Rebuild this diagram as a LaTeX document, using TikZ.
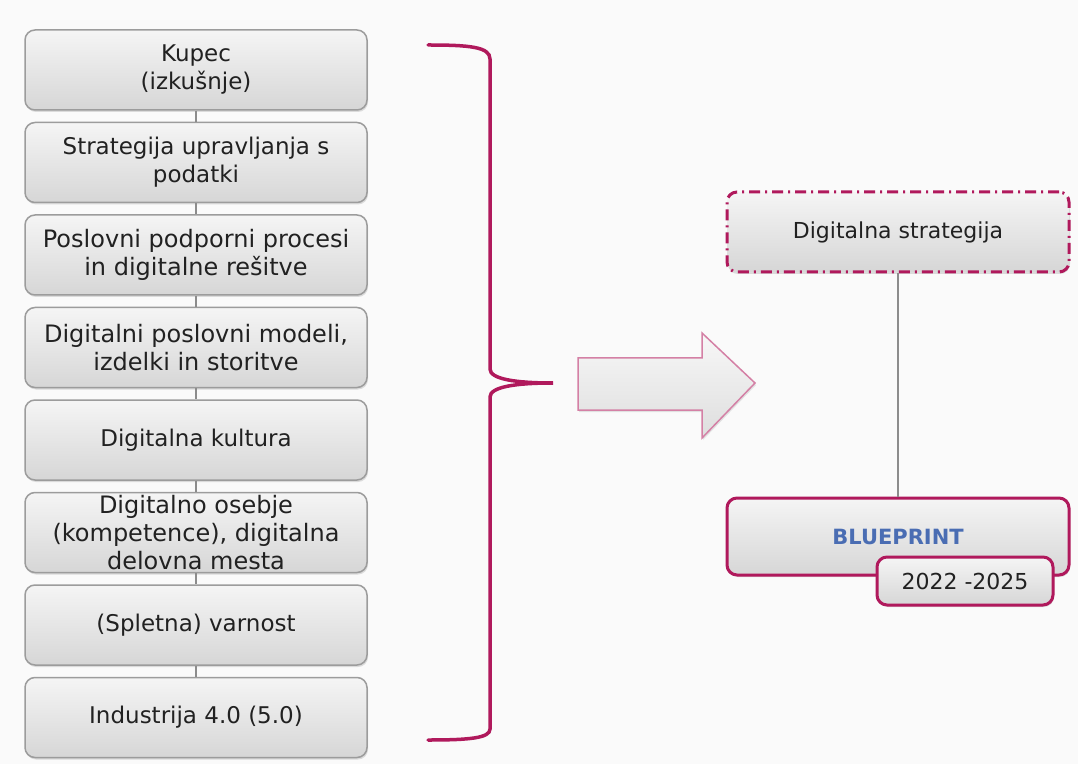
\documentclass[tikz,border=0pt]{standalone}
\usepackage{fontspec}
\setmainfont{DejaVu Sans}
\usepackage{tikz}
\usetikzlibrary{shadows}

\definecolor{brace}{HTML}{B0195C}
\definecolor{boxline}{HTML}{9C9C9C}
\definecolor{bluetext}{HTML}{4A6DB3}

\begin{document}
\begin{tikzpicture}[x=1pt, y=1pt, node distance=92.5pt,
  box/.style={draw=boxline, line width=1.5pt, rounded corners=10pt,
    top color=white!96!black, bottom color=white!84!black,
    drop shadow={opacity=0.25, shadow xshift=1pt, shadow yshift=-2pt},
    minimum width=342pt, minimum height=80pt, inner ysep=0pt,
    align=center, font=\fontsize{23}{28}\selectfont, text=black!87},
  bigtext/.style={font=\fontsize{24}{28}\selectfont},
  redbox/.style={box, draw=brace, line width=3pt, font=\fontsize{22}{28}\selectfont},
  link/.style={draw=black!45, line width=2pt}]

\useasboundingbox[fill=white!98!black] (0,0) rectangle (1078,764);

% nodes
\node[box] (A) at (196, 694) {Kupec\\(izkušnje)};
\node[box] (B) [below of=A] {Strategija upravljanja s\\podatki};
\node[box, bigtext] (C) [below of=B] {Poslovni podporni procesi\\in digitalne rešitve};
\node[box, bigtext] (D) [below of=C] {Digitalni poslovni modeli,\\izdelki in storitve};
\node[box] (E) [below of=D] {Digitalna kultura};
\node[box, bigtext] (F) [below of=E] {Digitalno osebje\\(kompetence), digitalna\\delovna mesta};
\node[box] (G) [below of=F] {(Spletna) varnost};
\node[box] (H) [below of=G] {Industrija 4.0 (5.0)};

\node[redbox, dash pattern=on 11pt off 5pt on 2pt off 5pt] (S) at (898, 532) {Digitalna strategija};
\node[redbox, minimum height=77pt] (P) [below of=S, node distance=304.5pt]
  {\textcolor{bluetext}{\bfseries\fontsize{21}{26}\selectfont BLUEPRINT}};
\node[redbox, minimum width=176pt, minimum height=48pt] (Y) at (965, 183) {2022 -2025};

% lines
\path[link] (A) edge (B);
\path[link] (B) edge (C);
\path[link] (C) edge (D);
\path[link] (D) edge (E);
\path[link] (E) edge (F);
\path[link] (F) edge (G);
\path[link] (G) edge (H);
\path[link] (S) edge (P);

% brace
\draw[brace, line width=3.5pt, line cap=round]
  (428,719) .. controls (470,719) and (490,717) .. (490,705) -- (490,395)
  .. controls (490,385) and (515,381) .. (553,381)
  .. controls (515,381) and (490,377) .. (490,367) -- (490,35)
  .. controls (490,26) and (470,24) .. (428,24);

% big arrow
\draw[draw=brace!55, line width=1.5pt, top color=white!97!black, bottom color=white!87!black,
  drop shadow={opacity=0.2, shadow xshift=1pt, shadow yshift=-2pt}]
  (578,406) -- (702,406) -- (702,431) -- (755,381) -- (702,326) -- (702,354) -- (578,354) -- cycle;

\end{tikzpicture}
\end{document}
